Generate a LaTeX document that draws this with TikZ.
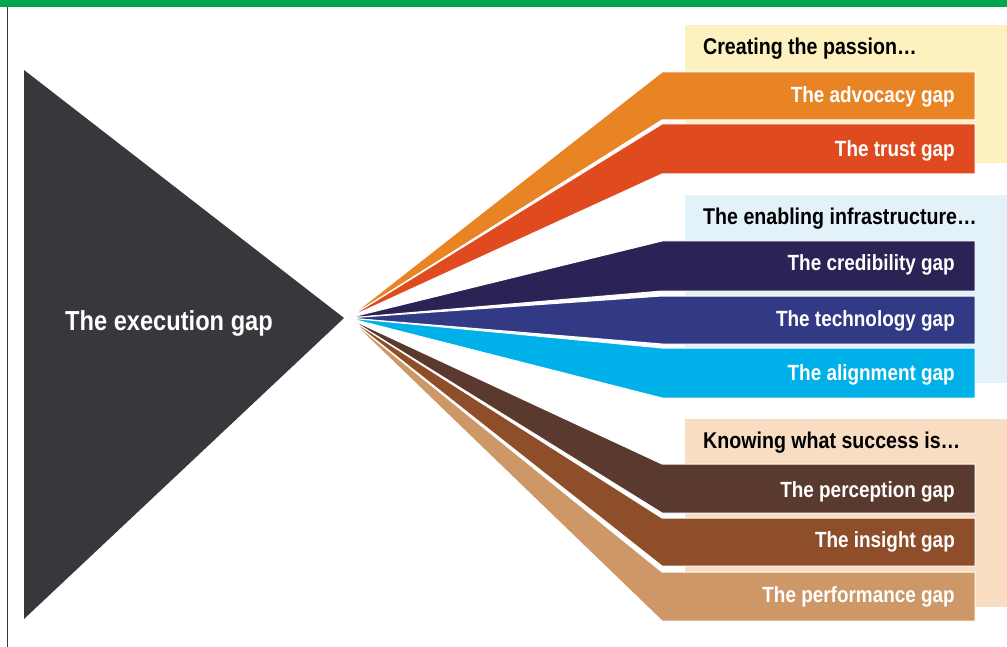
\documentclass[tikz,border=0pt]{standalone}
\usepackage{fontspec}
\setmainfont{Liberation Sans}[FakeStretch=0.86]
\definecolor{topgreen}{HTML}{00A54F}
\definecolor{frame}{HTML}{3A3A3A}
\definecolor{bigdark}{HTML}{38373B}
\definecolor{panelA}{HTML}{FDF1C0}
\definecolor{panelB}{HTML}{E3F1F8}
\definecolor{panelC}{HTML}{F8DDC2}
\definecolor{advocacy}{HTML}{E88424}
\definecolor{trust}{HTML}{E04A1F}
\definecolor{credibility}{HTML}{2B2356}
\definecolor{technology}{HTML}{333A85}
\definecolor{alignment}{HTML}{00B0E8}
\definecolor{perception}{HTML}{5A3A2E}
\definecolor{insight}{HTML}{8E4E2A}
\definecolor{performance}{HTML}{CD9768}
\tikzset{
  bandlabel/.style={anchor=base east, text=white, font=\bfseries\fontsize{22}{24}\selectfont, inner sep=0pt},
  headlabel/.style={anchor=base west, text=black, font=\bfseries\fontsize{22.8}{25}\selectfont, inner sep=0pt},
  bandshape/.style={draw=white, line width=1pt, line join=miter},
}
\begin{document}
\begin{tikzpicture}[x=1pt,y=-1pt]
\useasboundingbox (0,0) rectangle (1007,647);
% header rule and left frame
\fill[topgreen] (0,0) rectangle (1007,7);
\draw[frame, line width=1.5pt] (7.5,7) -- (7.5,647);

% background panels for the three groups
\fill[panelA] (685,25) rectangle (1007,163);
\fill[panelB] (685,195) rectangle (1007,383);
\fill[panelC] (685,419) rectangle (1007,607);

% the big triangle
\fill[bigdark] (24,70) -- (344,318) -- (24,619) -- cycle;
\node[anchor=base, text=white, font=\bfseries\fontsize{27.5}{30}\selectfont, inner sep=0pt] (exec) at (169,330) {The execution gap};

\coordinate (apex) at (348,318);

% fan of gap bands: top, bottom, colour
\foreach \t/\b/\c in {72/120/advocacy, 124/174/trust,
                      241/291/credibility, 296/344/technology, 348/398/alignment,
                      464/513/perception, 518/566/insight, 572/621/performance}{
  \fill[\c, bandshape] (apex) -- (662,\t) -- (975,\t) -- (975,\b) -- (662,\b) -- cycle;
}

% group headings
\node[headlabel] (h1) at (703,55) {Creating the passion…};
\node[headlabel] (h2) at (703,225) {The enabling infrastructure…};
\node[headlabel] (h3) at (703,448) {Knowing what success is…};

% band labels
\node[bandlabel] (g1) at (955,103) {The advocacy gap};
\node[bandlabel] (g2) at (955,157) {The trust gap};
\node[bandlabel] (g3) at (955,271) {The credibility gap};
\node[bandlabel] (g4) at (955,326) {The technology gap};
\node[bandlabel] (g5) at (955,380) {The alignment gap};
\node[bandlabel] (g6) at (955,497) {The perception gap};
\node[bandlabel] (g7) at (955,547) {The insight gap};
\node[bandlabel] (g8) at (955,602) {The performance gap};
\end{tikzpicture}
\end{document}
